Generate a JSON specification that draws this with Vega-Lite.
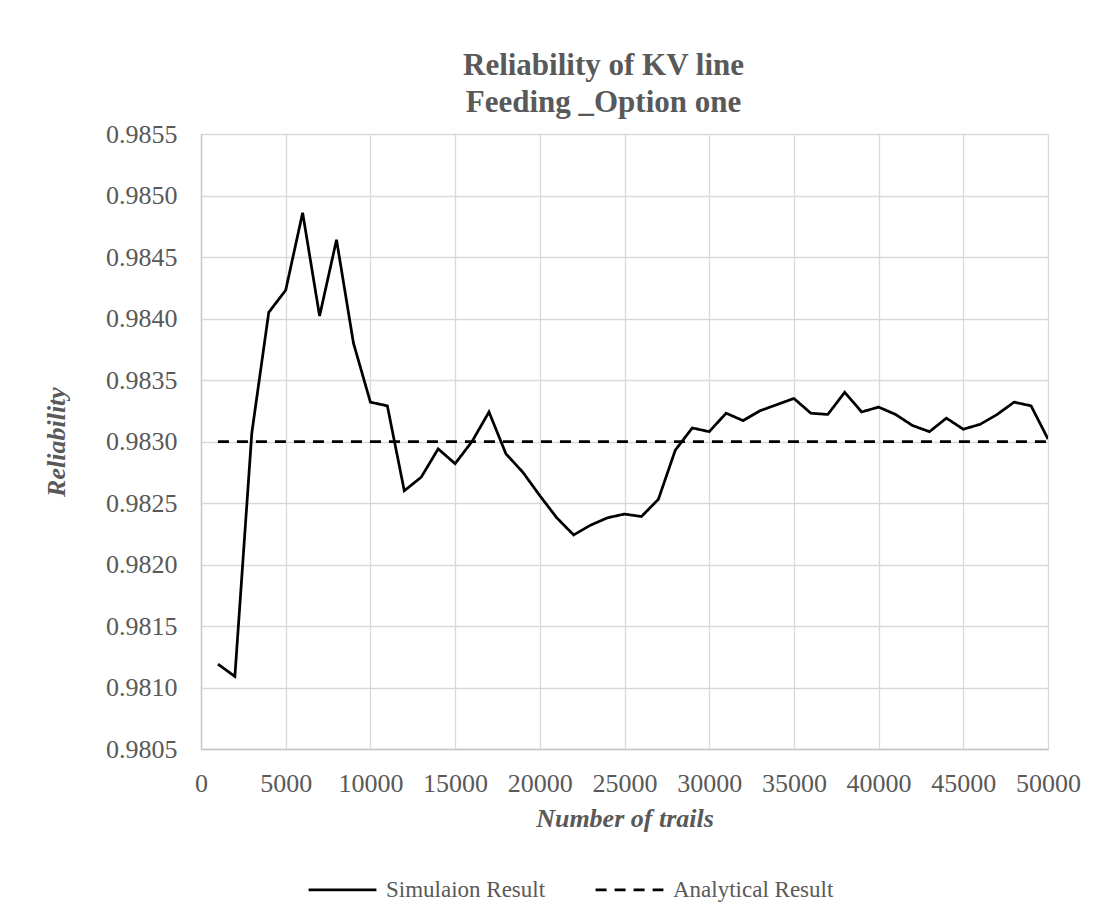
{
  "$schema": "https://vega.github.io/schema/vega-lite/v6.json",
  "width": 847,
  "height": 615,
  "autosize": {"type": "none"},
  "padding": {"left": 201, "top": 134, "right": 59, "bottom": 175},
  "background": "white",
  "config": {
    "font": "Liberation Serif",
    "view": {"stroke": null},
    "axis": {
      "labelFont": "Liberation Serif",
      "labelColor": "#595959",
      "labelFontSize": 26,
      "titleFont": "Liberation Serif",
      "titleColor": "#595959",
      "titleFontSize": 26,
      "titleFontWeight": "bold",
      "titleFontStyle": "italic",
      "gridColor": "#d9d9d9",
      "gridWidth": 1.3,
      "ticks": false,
      "domainColor": "#c6c6c6",
      "domainWidth": 1.3
    },
    "legend": {
      "labelFont": "Liberation Serif",
      "labelColor": "#595959",
      "labelFontSize": 23,
      "labelLimit": 400
    }
  },
  "title": {
    "text": ["Reliability of KV line", "Feeding _Option one"],
    "font": "Liberation Serif",
    "fontSize": 31,
    "fontWeight": "bold",
    "color": "#595959",
    "anchor": "middle",
    "dx": -21,
    "offset": 2,
    "lineHeight": 37
  },
  "data": {
    "values": [
      {"trials": 1000, "r": 0.98119, "series": "Simulaion Result"},
      {"trials": 2000, "r": 0.98109, "series": "Simulaion Result"},
      {"trials": 3000, "r": 0.98307, "series": "Simulaion Result"},
      {"trials": 4000, "r": 0.98405, "series": "Simulaion Result"},
      {"trials": 5000, "r": 0.98423, "series": "Simulaion Result"},
      {"trials": 6000, "r": 0.98486, "series": "Simulaion Result"},
      {"trials": 7000, "r": 0.98402, "series": "Simulaion Result"},
      {"trials": 8000, "r": 0.98464, "series": "Simulaion Result"},
      {"trials": 9000, "r": 0.98380, "series": "Simulaion Result"},
      {"trials": 10000, "r": 0.98332, "series": "Simulaion Result"},
      {"trials": 11000, "r": 0.98329, "series": "Simulaion Result"},
      {"trials": 12000, "r": 0.98260, "series": "Simulaion Result"},
      {"trials": 13000, "r": 0.98271, "series": "Simulaion Result"},
      {"trials": 14000, "r": 0.98294, "series": "Simulaion Result"},
      {"trials": 15000, "r": 0.98282, "series": "Simulaion Result"},
      {"trials": 16000, "r": 0.98300, "series": "Simulaion Result"},
      {"trials": 17000, "r": 0.98324, "series": "Simulaion Result"},
      {"trials": 18000, "r": 0.98290, "series": "Simulaion Result"},
      {"trials": 19000, "r": 0.98275, "series": "Simulaion Result"},
      {"trials": 20000, "r": 0.98256, "series": "Simulaion Result"},
      {"trials": 21000, "r": 0.98238, "series": "Simulaion Result"},
      {"trials": 22000, "r": 0.98224, "series": "Simulaion Result"},
      {"trials": 23000, "r": 0.98232, "series": "Simulaion Result"},
      {"trials": 24000, "r": 0.98238, "series": "Simulaion Result"},
      {"trials": 25000, "r": 0.98241, "series": "Simulaion Result"},
      {"trials": 26000, "r": 0.98239, "series": "Simulaion Result"},
      {"trials": 27000, "r": 0.98253, "series": "Simulaion Result"},
      {"trials": 28000, "r": 0.98293, "series": "Simulaion Result"},
      {"trials": 29000, "r": 0.98311, "series": "Simulaion Result"},
      {"trials": 30000, "r": 0.98308, "series": "Simulaion Result"},
      {"trials": 31000, "r": 0.98323, "series": "Simulaion Result"},
      {"trials": 32000, "r": 0.98317, "series": "Simulaion Result"},
      {"trials": 33000, "r": 0.98325, "series": "Simulaion Result"},
      {"trials": 34000, "r": 0.98330, "series": "Simulaion Result"},
      {"trials": 35000, "r": 0.98335, "series": "Simulaion Result"},
      {"trials": 36000, "r": 0.98323, "series": "Simulaion Result"},
      {"trials": 37000, "r": 0.98322, "series": "Simulaion Result"},
      {"trials": 38000, "r": 0.98340, "series": "Simulaion Result"},
      {"trials": 39000, "r": 0.98324, "series": "Simulaion Result"},
      {"trials": 40000, "r": 0.98328, "series": "Simulaion Result"},
      {"trials": 41000, "r": 0.98322, "series": "Simulaion Result"},
      {"trials": 42000, "r": 0.98313, "series": "Simulaion Result"},
      {"trials": 43000, "r": 0.98308, "series": "Simulaion Result"},
      {"trials": 44000, "r": 0.98319, "series": "Simulaion Result"},
      {"trials": 45000, "r": 0.98310, "series": "Simulaion Result"},
      {"trials": 46000, "r": 0.98314, "series": "Simulaion Result"},
      {"trials": 47000, "r": 0.98322, "series": "Simulaion Result"},
      {"trials": 48000, "r": 0.98332, "series": "Simulaion Result"},
      {"trials": 49000, "r": 0.98329, "series": "Simulaion Result"},
      {"trials": 50000, "r": 0.98302, "series": "Simulaion Result"},
      {"trials": 1000, "r": 0.9830, "series": "Analytical Result"},
      {"trials": 50000, "r": 0.9830, "series": "Analytical Result"}
    ]
  },
  "mark": {"type": "line", "strokeWidth": 2.75, "clip": true},
  "encoding": {
    "x": {
      "field": "trials",
      "type": "quantitative",
      "title": "Number of trails",
      "scale": {"domain": [0, 50000], "nice": false},
      "axis": {
        "values": [0, 5000, 10000, 15000, 20000, 25000, 30000, 35000, 40000, 45000, 50000],
        "format": "d",
        "labelPadding": 21,
        "titlePadding": 9,
        "labelOverlap": false,
        "labelFlush": false
      }
    },
    "y": {
      "field": "r",
      "type": "quantitative",
      "title": "Reliability",
      "scale": {"domain": [0.9805, 0.9855], "nice": false, "zero": false},
      "axis": {
        "values": [0.9805, 0.981, 0.9815, 0.982, 0.9825, 0.983, 0.9835, 0.984, 0.9845, 0.985, 0.9855],
        "format": ".4f",
        "labelPadding": 24,
        "titlePadding": 36,
        "labelOverlap": false,
        "labelFlush": false
      }
    },
    "color": {
      "field": "series",
      "type": "nominal",
      "scale": {"domain": ["Simulaion Result", "Analytical Result"], "range": ["black", "black"]},
      "legend": {
        "orient": "none",
        "legendX": 106,
        "legendY": 720,
        "direction": "horizontal",
        "title": null,
        "symbolType": "stroke",
        "symbolSize": 4600,
        "symbolStrokeWidth": 2.75,
        "labelOffset": 8,
        "columnPadding": 44
      }
    },
    "strokeDash": {
      "field": "series",
      "type": "nominal",
      "scale": {"domain": ["Simulaion Result", "Analytical Result"], "range": [[1, 0], [11, 8]]},
      "legend": null
    }
  }
}
